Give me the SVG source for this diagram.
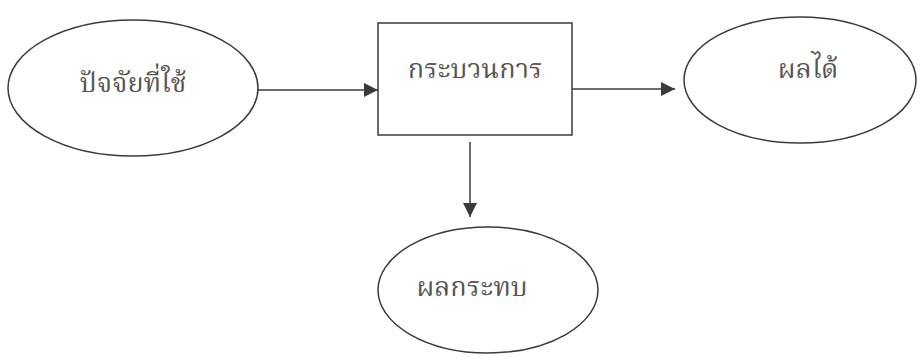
<svg xmlns="http://www.w3.org/2000/svg" width="922" height="357" viewBox="0 0 922 357">
<defs>
<style>
.shape{fill:none;stroke:#3a3a3a;stroke-width:1.5}
.lbl{font-family:"Noto Serif Thai","Noto Sans Thai Looped","Noto Sans Thai","Noto Sans","DejaVu Sans",sans-serif;font-size:27px;fill:#555;text-anchor:middle}
.conn{stroke:#3a3a3a;stroke-width:1.5;fill:none}
</style>
<marker id="ah" viewBox="0 0 10 10" refX="10" refY="5" markerWidth="14" markerHeight="14" markerUnits="userSpaceOnUse" orient="auto">
<path d="M0,0 L10,5 L0,10 Z" fill="#3a3a3a"/>
</marker>
</defs>
<rect width="922" height="357" fill="#fff"/>
<g id="input">
<ellipse class="shape" cx="133" cy="88" rx="125" ry="68"/>
<text class="lbl" x="133" y="92">ปัจจัยที่ใช้</text>
</g>
<g id="process">
<rect class="shape" x="378" y="23" width="194" height="112"/>
<text class="lbl" x="475" y="78">กระบวนการ</text>
</g>
<g id="output">
<ellipse class="shape" cx="800" cy="80" rx="116" ry="63"/>
<text class="lbl" x="808" y="78">ผลได้</text>
</g>
<g id="impact">
<ellipse class="shape" cx="488" cy="290" rx="110" ry="63"/>
<text class="lbl" x="472" y="296">ผลกระทบ</text>
</g>
<g id="connectors">
<line class="conn" x1="258" y1="90" x2="378" y2="90" marker-end="url(#ah)"/>
<line class="conn" x1="572" y1="89" x2="675" y2="89" marker-end="url(#ah)"/>
<line class="conn" x1="470" y1="142" x2="470" y2="217" marker-end="url(#ah)"/>
</g>
</svg>
